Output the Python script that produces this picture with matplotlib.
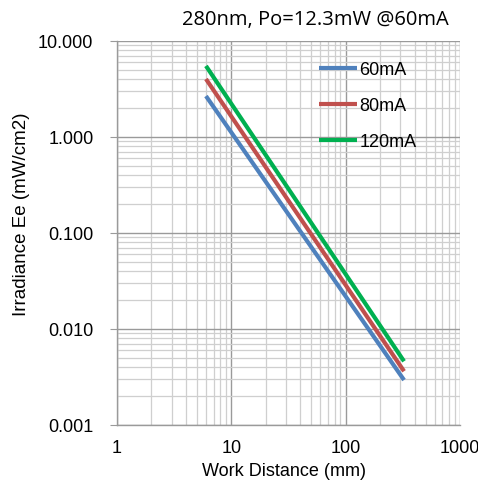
import numpy as np
import matplotlib.pyplot as plt
from matplotlib.ticker import LogLocator, FixedLocator, FixedFormatter, NullFormatter

plt.rcParams['font.family'] = ['Liberation Sans', 'DejaVu Sans']

# work distance (mm) and irradiance (mW/cm2) for each drive current
distance = [6, 324]
ee_60ma = [2.67, 0.00294]
ee_80ma = [4.02, 0.00363]
ee_120ma = [5.5, 0.00461]

series = [
    ('60mA', ee_60ma, '#4F81BD'),
    ('80mA', ee_80ma, '#C0504D'),
    ('120mA', ee_120ma, '#00B050'),
]

x_ticks = [1, 10, 100, 1000]
x_labels = ['1', '10', '100', '1000']
y_ticks = [0.001, 0.01, 0.1, 1, 10]
y_labels = ['0.001', '0.010', '0.100', '1.000', '10.000']

W, H = 478, 481
fig = plt.figure(figsize=(W / 100, H / 100), dpi=100)
ax = fig.add_axes([117 / W, 1 - 426 / H, 343 / W, 384 / H])

for name, vals, col in series:
    ax.plot(distance, vals, color=col, lw=3, label=name, solid_capstyle='butt')

ax.set_xscale('log')
ax.set_yscale('log')
ax.set_xlim(1, 1000)
ax.set_ylim(0.001, 10)

ax.xaxis.set_major_locator(FixedLocator(x_ticks))
ax.xaxis.set_major_formatter(FixedFormatter(x_labels))
ax.yaxis.set_major_locator(FixedLocator(y_ticks))
ax.yaxis.set_major_formatter(FixedFormatter(y_labels))
ax.xaxis.set_minor_locator(LogLocator(base=10, subs=np.arange(2, 10)))
ax.yaxis.set_minor_locator(LogLocator(base=10, subs=np.arange(2, 10)))
ax.xaxis.set_minor_formatter(NullFormatter())
ax.yaxis.set_minor_formatter(NullFormatter())

ax.grid(which='major', color='#9a9a9a', lw=1.0)
ax.grid(which='minor', color='#cfcfcf', lw=0.9)
ax.set_axisbelow(True)

for s in ['top', 'right']:
    ax.spines[s].set_visible(False)
for s in ['left', 'bottom']:
    ax.spines[s].set_color('#9a9a9a')
    ax.spines[s].set_linewidth(1.0)

ax.tick_params(axis='y', which='major', length=5, color='#9a9a9a', labelsize=13, pad=12)
ax.tick_params(axis='x', which='major', length=0, labelsize=13, pad=10)
ax.tick_params(which='minor', length=0)

# axis titles and chart title
fig.text(284 / W, 1 - 472 / H, 'Work Distance (mm)', fontsize=13,
         ha='center', va='center')
fig.text(22 / W, 1 - 214 / H, 'Irradiance Ee (mW/cm2)', fontsize=13.5,
         rotation=90, ha='center', va='center')
fig.text(315 / W, 1 - 20 / H, '280nm, Po=12.3mW @60mA', fontsize=14.5,
         family=['Open Sans', 'DejaVu Sans'], ha='center', va='center')

leg = ax.legend(loc='upper left', bbox_to_anchor=(0.543, 0.99), frameon=False,
                fontsize=13, handlelength=2.1, handletextpad=0.1, labelspacing=1.05)

fig.savefig('out.png', dpi=100)
